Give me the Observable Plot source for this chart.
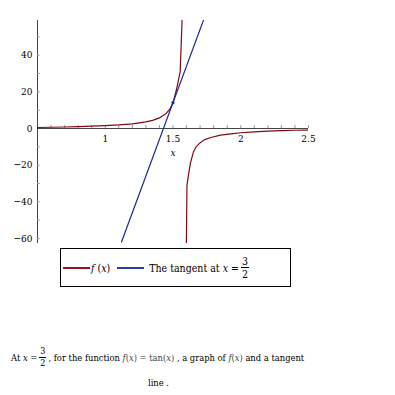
<!DOCTYPE html>
<html><head><meta charset="utf-8">
<script src="https://cdn.jsdelivr.net/npm/d3@7"></script>
<script src="https://cdn.jsdelivr.net/npm/@observablehq/plot@0.6"></script>
<style>
body{margin:0;background:#fff;}
#wrap{position:relative;width:395px;height:395px;font-family:"DejaVu Serif Condensed","DejaVu Serif",serif;font-stretch:condensed;color:#000;}
#chart{position:absolute;left:0;top:0;}
.frac{display:inline-flex;flex-direction:column;align-items:center;vertical-align:middle;line-height:1;margin:0 2px;}
.frac span:first-child{border-bottom:1px solid #000;padding:0 1px 1px 1px;}
.frac span:last-child{padding-top:1px;}
#legend{position:absolute;left:60px;top:248px;width:231px;height:39px;border:1px solid #000;font-size:10.5px;display:flex;align-items:center;padding-left:2px;box-sizing:border-box;white-space:nowrap;}
.seg{display:inline-block;width:27px;height:2px;margin-right:1px;vertical-align:middle;}
#caption{position:absolute;left:11px;top:347px;font-size:9.3px;white-space:nowrap;}
.m{color:#444;}
</style></head>
<body><div id="wrap"><div id="chart"></div>
<div id="legend">
  <span class="seg" style="background:#a01020"></span><span><i>f</i> (<i>x</i>)</span>
  <span class="seg" style="background:#2a3cb0;margin-left:7px;margin-right:5px"></span><span>The tangent at <i>x</i> =</span>
  <span class="frac"><span>3</span><span>2</span></span>
</div>
<div id="caption">
  <div style="display:flex;align-items:center;">
    <span>At <i>x</i> =</span><span class="frac" style="font-size:9px;"><span>3</span><span>2</span></span>
    <span>, for the function <span class="m"><i>f</i>(<i>x</i>) = tan(<i>x</i>)</span> , a graph of <span class="m"><i>f</i>(<i>x</i>)</span> and a tangent</span>
  </div>
  <div style="position:absolute;left:137px;top:30px;">line .</div>
</div>
</div>
<script>
// f(x) = tan(x), left branch (as plotted)
const upperX = [0.5, 0.6, 0.7, 0.8, 0.9, 1.0, 1.1, 1.2, 1.3, 1.35, 1.4, 1.45, 1.48, 1.5, 1.525, 1.553, 1.5725];
const upperY = [0.55, 0.68, 0.84, 1.03, 1.26, 1.56, 1.96, 2.57, 3.6, 4.46, 5.8, 8.24, 10.98, 14.1, 21, 31, 70];
// right branch
const lowerX = [1.597, 1.603, 1.615, 1.628, 1.65, 1.67, 1.694, 1.73, 1.78, 1.85, 1.928, 2.0, 2.1, 2.2, 2.3, 2.4, 2.5];
const lowerY = [-75, -31, -25, -19, -13, -10, -8.2, -6.2, -4.9, -3.6, -2.9, -2.3, -1.8, -1.4, -1.2, -0.95, -0.85];
// tangent line at x = 3/2
const tangentX = [1.12, 1.74];
const tangentY = [-61.9, 62.1];
const tangentPoint = [{x: 1.5, y: 14.1}];
// ticks
const xTickValues = [1, 1.5, 2, 2.5];
const xTickLabels = ["1", "1.5", "2", "2.5"];
const xMinor = [0.6,0.7,0.8,0.9,1.0,1.1,1.2,1.3,1.4,1.5,1.6,1.7,1.8,1.9,2.0,2.1,2.2,2.3,2.4,2.5];
const yTickValues = [40, 20, 0, -20, -40, -60];
const yTickLabels = ["40", "20", "0", "\u221220", "\u221240", "\u221260"];
const yMinor = [50, 40, 30, 20, 10, -10, -20, -30, -40, -50, -60];

const upper = upperX.map((x, i) => ({x, y: upperY[i]}));
const lower = lowerX.map((x, i) => ({x, y: lowerY[i]}));
const tangent = tangentX.map((x, i) => ({x, y: tangentY[i]}));
const red = "#800a14", blue = "#1c2a96", axis = "#444";
const font = "DejaVu Serif Condensed, DejaVu Serif, serif";

const chart = Plot.plot({
  width: 395, height: 245,
  marginLeft: 37, marginRight: 87, marginTop: 20, marginBottom: 2,
  x: {domain: [0.5, 2.5], axis: null},
  y: {domain: [-62.7, 58.9], axis: null},
  style: {background: "white"},
  marks: [
    Plot.ruleY([0], {stroke: axis, strokeWidth: 1}),
    Plot.ruleX([0.5], {stroke: axis, strokeWidth: 1}),
    Plot.ruleX(xMinor, {x: d => d, y1: 0, y2: 1.6, stroke: "#999", strokeWidth: 1}),
    Plot.ruleY(yMinor, {y: d => d, x1: 0.5, x2: 0.52, stroke: "#999", strokeWidth: 1}),
    Plot.text(xTickValues, {x: d => d, y: 0, dy: 10, text: (d, i) => xTickLabels[i], fontSize: 10, fill: "#000", fontFamily: font}),
    Plot.text(yTickValues, {x: 0.5, y: d => d, dx: -5, textAnchor: "end", text: (d, i) => yTickLabels[i], fontSize: 10, fill: "#000", fontFamily: font}),
    Plot.text([1.5], {x: d => d, y: 0, dy: 24, text: ["x"], fontStyle: "italic", fontSize: 10, fill: "#000", fontFamily: font}),
    Plot.line(upper, {x: "x", y: "y", stroke: red, strokeWidth: 1.2, clip: true}),
    Plot.line(lower, {x: "x", y: "y", stroke: red, strokeWidth: 1.2, clip: true}),
    Plot.line(tangent, {x: "x", y: "y", stroke: blue, strokeWidth: 1.2, clip: true}),
    Plot.dot(tangentPoint, {x: "x", y: "y", r: 1.6, fill: blue, stroke: null})
  ]
});
document.getElementById("chart").appendChild(chart);
</script>
</body></html>
